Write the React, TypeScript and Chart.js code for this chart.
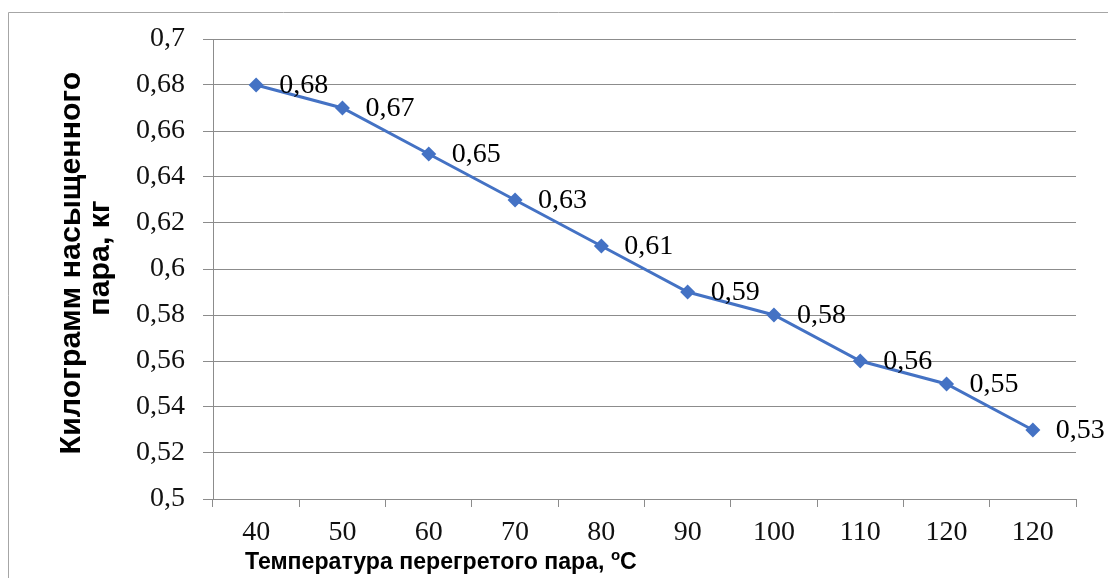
import React, { useEffect, useRef } from "react";
import { Chart, registerables } from "chart.js";

Chart.register(...registerables);

const categories = ["40", "50", "60", "70", "80", "90", "100", "110", "120", "120"];
const values = [0.68, 0.67, 0.65, 0.63, 0.61, 0.59, 0.58, 0.56, 0.55, 0.53];
const yMin = 0.5;
const yMax = 0.7;
const yStep = 0.02;
const yTitleLines = ["Килограмм насыщенного", "пара, кг"];
const xTitleMain = "Температура перегретого пара, ";
const xTitleSup = "o";
const xTitleEnd = "C";

const W = 1108;
const H = 578;
const SERIF = "'Liberation Serif', 'Times New Roman', serif";
const SANS = "'Liberation Sans', Arial, sans-serif";

const fmt = (v: number) => String(Number(v.toFixed(2))).replace(".", ",");

function fitFont(ctx: CanvasRenderingContext2D, text: string, target: number, family: string) {
  ctx.font = `bold 20px ${family}`;
  const w = ctx.measureText(text).width;
  return (20 * target) / w;
}

const decorPlugin = {
  id: "decor",
  beforeDraw(chart: any) {
    const ctx = chart.ctx;
    ctx.save();
    ctx.fillStyle = "#ffffff";
    ctx.fillRect(0, 0, W, H);
    ctx.strokeStyle = "#a6a6a6";
    ctx.lineWidth = 1;
    ctx.beginPath();
    ctx.moveTo(8.5, H);
    ctx.lineTo(8.5, 12.5);
    ctx.lineTo(W, 12.5);
    ctx.stroke();
    ctx.restore();
  },
  afterDraw(chart: any) {
    const ctx = chart.ctx;
    ctx.save();
    ctx.fillStyle = "#000000";
    const ySize = fitFont(ctx, yTitleLines[0], 383, SANS);
    ctx.font = `bold ${ySize}px ${SANS}`;
    ctx.textAlign = "center";
    ctx.textBaseline = "middle";
    const yCenters = [263, 258];
    const xCenters = [72, 101];
    yTitleLines.forEach((line, i) => {
      ctx.save();
      ctx.translate(xCenters[i], yCenters[i]);
      ctx.rotate(-Math.PI / 2);
      ctx.fillText(line, 0, 0);
      ctx.restore();
    });
    const full = xTitleMain + xTitleSup + xTitleEnd;
    const xSize = fitFont(ctx, full, 397, SANS);
    ctx.font = `bold ${xSize}px ${SANS}`;
    ctx.textAlign = "left";
    ctx.textBaseline = "alphabetic";
    let x = 245;
    const base = 569;
    ctx.fillText(xTitleMain, x, base);
    x += ctx.measureText(xTitleMain).width;
    ctx.font = `bold ${xSize * 0.65}px ${SANS}`;
    ctx.fillText(xTitleSup, x, base - xSize * 0.38);
    x += ctx.measureText(xTitleSup).width;
    ctx.font = `bold ${xSize}px ${SANS}`;
    ctx.fillText(xTitleEnd, x, base);
    ctx.restore();
  },
  afterDatasetsDraw(chart: any) {
    const ctx = chart.ctx;
    const meta = chart.getDatasetMeta(0);
    ctx.save();
    ctx.font = `28px ${SERIF}`;
    ctx.fillStyle = "#000000";
    ctx.textAlign = "left";
    ctx.textBaseline = "middle";
    meta.data.forEach((pt: any, i: number) => {
      ctx.fillText(fmt(values[i]), pt.x + 23, pt.y + 1);
    });
    ctx.restore();
  },
};

export default function App() {
  const ref = useRef<HTMLCanvasElement | null>(null);

  useEffect(() => {
    if (!ref.current) return;
    const chart = new Chart(ref.current, {
      type: "line",
      data: {
        labels: categories,
        datasets: [
          {
            data: values,
            borderColor: "#4472C4",
            backgroundColor: "#4472C4",
            borderWidth: 3,
            pointStyle: "rectRot",
            pointRadius: 7.5,
            pointBorderWidth: 0,
            pointBackgroundColor: "#4472C4",
            tension: 0,
          },
        ],
      },
      options: {
        animation: false,
        responsive: false,
        devicePixelRatio: 1,
        layout: { padding: { top: 39, right: 32, left: 0, bottom: 0 } },
        plugins: {
          legend: { display: false },
          tooltip: { enabled: false },
          title: { display: false },
        },
        scales: {
          x: {
            type: "category",
            offset: true,
            afterFit: (s: any) => {
              s.height = 79;
            },
            grid: {
              offset: true,
              drawOnChartArea: false,
              drawTicks: true,
              tickLength: 8,
              color: "#8c8c8c",
            },
            border: { display: true, color: "#8c8c8c", width: 1 },
            ticks: {
              color: "#111111",
              font: { family: SERIF, size: 28 },
              padding: 9,
              maxRotation: 0,
              autoSkip: false,
            },
          },
          y: {
            min: yMin,
            max: yMax,
            afterFit: (s: any) => {
              s.width = 213;
            },
            grid: {
              drawOnChartArea: true,
              drawTicks: true,
              tickLength: 10,
              color: "#8c8c8c",
            },
            border: { display: true, color: "#8c8c8c", width: 1 },
            ticks: {
              stepSize: yStep,
              color: "#111111",
              font: { family: SERIF, size: 28 },
              padding: 18,
              callback: (v: any) => fmt(Number(v)),
            },
          },
        },
      },
      plugins: [decorPlugin],
    } as any);
    return () => chart.destroy();
  }, []);

  return (
    <div style={{ position: "fixed", left: 0, top: 0, width: W, height: H, background: "#fff" }}>
      <canvas ref={ref} width={W} height={H} style={{ width: W, height: H, display: "block" }} />
    </div>
  );
}
